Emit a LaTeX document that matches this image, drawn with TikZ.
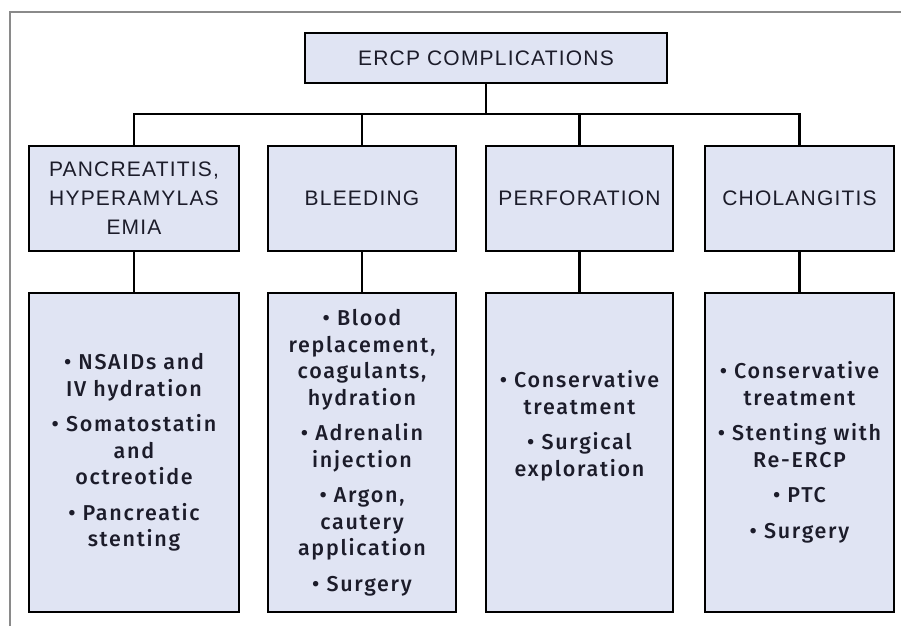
\documentclass[tikz,border=0pt]{standalone}
\usepackage{fontspec}
\setmainfont{Liberation Sans}[LetterSpace=5.7]
\newfontfamily\detfont{Fira Sans Medium}[LetterSpace=8]
\definecolor{boxfill}{HTML}{E0E4F3}
\definecolor{txt}{HTML}{1C1C2A}
\definecolor{framegray}{HTML}{8A8A8A}
\tikzset{
  box/.style={draw=black, line width=2.6pt, fill=boxfill, inner sep=0pt, outer sep=0pt, align=center, text=txt},
  headbox/.style={box, font=\fontsize{21}{29}\selectfont},
  detbox/.style={box, font=\detfont\fontsize{21.5}{26.5}\selectfont},
  conn/.style={draw=black, line width=2.6pt},
}
\begin{document}
\begin{tikzpicture}[x=1pt,y=-1pt]
\useasboundingbox (0,0) rectangle (901,626);
\draw[framegray, line width=1.3pt] (10,626) -- (10,12) -- (901,12);
\node[headbox, minimum width=362pt, minimum height=50pt] (title) at (486,58) {ERCP COMPLICATIONS};
\coordinate (bus) at (0,114);
\node[headbox, minimum width=210pt, minimum height=105pt] (c1) at (134,198.5) {PANCREATITIS,\\HYPERAMYLAS\\EMIA};
\node[headbox, minimum width=188pt, minimum height=105pt] (c2) at (362,198.5) {BLEEDING};
\node[headbox, minimum width=187pt, minimum height=105pt] (c3) at (579.5,198.5) {PERFORATION};
\node[headbox, minimum width=189pt, minimum height=105pt] (c4) at (799.5,198.5) {CHOLANGITIS};
\node[detbox, minimum width=210pt, minimum height=319pt] (d1) at (134,452.5) {• NSAIDs and\\IV hydration\\[9pt]• Somatostatin\\and\\octreotide\\[9pt]• Pancreatic\\stenting};
\node[detbox, minimum width=188pt, minimum height=319pt] (d2) at (362,452.5) {• Blood\\replacement,\\coagulants,\\hydration\\[9pt]• Adrenalin\\injection\\[9pt]• Argon,\\cautery\\application\\[9pt]• Surgery};
\node[detbox, minimum width=187pt, minimum height=319pt] (d3) at (579.5,452.5) {• Conservative\\treatment\\[9pt]• Surgical\\exploration\\[32pt]\mbox{}};
\node[detbox, minimum width=189pt, minimum height=319pt] (d4) at (799.5,452.5) {• Conservative\\treatment\\[9pt]• Stenting with\\Re-ERCP\\[9pt]• PTC\\[9pt]• Surgery};
\draw[conn] (title.south) -- (title.south |- bus);
\draw[conn] (c1.north) -- (c1.north |- bus) -- (c4.north |- bus) -- (c4.north);
\draw[conn] (c2.north) -- (c2.north |- bus);
\draw[conn] (c3.north) -- (c3.north |- bus);
\draw[conn] (c1.south) -- (d1.north);
\draw[conn] (c2.south) -- (d2.north);
\draw[conn] (c3.south) -- (d3.north);
\draw[conn] (c4.south) -- (d4.north);
\end{tikzpicture}
\end{document}
